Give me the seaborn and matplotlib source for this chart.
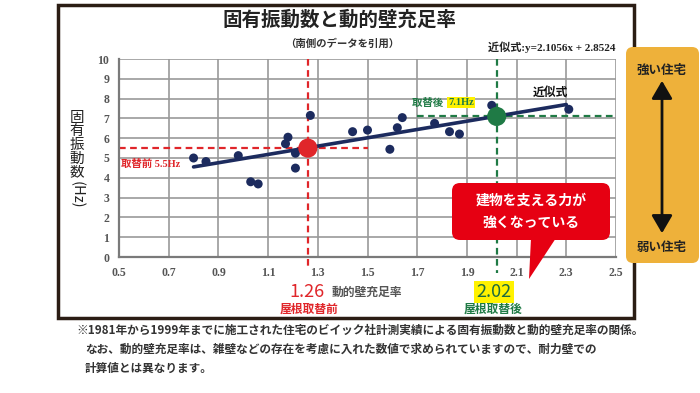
import numpy as np
import pandas as pd
import matplotlib
matplotlib.use("Agg")
import matplotlib.pyplot as plt
from matplotlib.patches import FancyBboxPatch, Rectangle, Polygon, FancyArrowPatch
import seaborn as sns

### data
wall_ratio = [0.80, 0.85, 0.98, 1.03, 1.06, 1.17, 1.18, 1.21, 1.21, 1.27,
              1.44, 1.50, 1.59, 1.62, 1.64, 1.77, 1.83, 1.87, 2.00, 2.31]
freq_hz = [5.00, 4.82, 5.12, 3.80, 3.69, 5.72, 6.05, 5.24, 4.49, 7.15,
           6.33, 6.41, 5.44, 6.53, 7.04, 6.75, 6.33, 6.21, 7.66, 7.46]
trend_x = [0.80, 2.30]          # end points of the fitted line
trend_y = [4.55, 7.70]
before_pt = (1.26, 5.5)         # 屋根取替前
after_pt = (2.02, 7.1)          # 屋根取替後
x_ticks = [0.5, 0.7, 0.9, 1.1, 1.3, 1.5, 1.7, 1.9, 2.1, 2.3, 2.5]
y_ticks = list(range(0, 11))

NAVY = "#1c2b5e"
RED = "#e0262a"
GREEN = "#1f7a45"
YELLOW = "#fff200"
JP = ["Noto Sans CJK JP", "DejaVu Sans"]
SERIF = ["Liberation Serif", "Noto Sans CJK JP"]

sns.set_theme(style="whitegrid")
plt.rcParams["font.family"] = JP

W, H = 700, 393
fig = plt.figure(figsize=(W / 100, H / 100), dpi=100)
fig.patch.set_facecolor("white")

def inch(x, y):
    # pixel (top-left origin) -> inches for fig.dpi_scale_trans
    return x / 100, (H - y) / 100

# outer frame
x0, y0 = inch(58, 318)
fig.patches.append(Rectangle((x0, y0), 5.76, 3.13, transform=fig.dpi_scale_trans,
                             fill=False, lw=2.5, ec="#2b1d14", zorder=0))

ax = fig.add_axes([119 / W, 1 - 257 / H, (616 - 119) / W, (257 - 59) / H])
ax.set_facecolor("white")

df = pd.DataFrame({"ratio": wall_ratio, "freq": freq_hz})
trend = pd.DataFrame({"ratio": trend_x, "freq": trend_y})

# dashed guide lines
ax.plot([0.5, 1.5], [before_pt[1]] * 2, ls=(0, (3, 2)), color=RED, lw=1.6, zorder=2)
ax.plot([before_pt[0]] * 2, [10, -0.65], ls=(0, (3, 2)), color=RED, lw=1.6, zorder=2, clip_on=False)
ax.plot([1.70, 2.5], [after_pt[1]] * 2, ls=(0, (3, 2)), color=GREEN, lw=1.6, zorder=2)
ax.plot([after_pt[0]] * 2, [10, -0.8], ls=(0, (3, 2)), color=GREEN, lw=1.6, zorder=2, clip_on=False)

sns.lineplot(data=trend, x="ratio", y="freq", color=NAVY, lw=2.6, ax=ax, zorder=3)
sns.scatterplot(data=df, x="ratio", y="freq", color=NAVY, s=42, edgecolor="none", ax=ax, zorder=4)
ax.scatter([before_pt[0]], [before_pt[1]], s=190, color=RED, zorder=5, edgecolor="none")
ax.scatter([after_pt[0]], [after_pt[1]], s=190, color=GREEN, zorder=5, edgecolor="none")

ax.set_xlim(0.5, 2.5)
ax.set_ylim(0, 10)
ax.set_xticks(x_ticks)
ax.set_yticks(y_ticks)
ax.set_xticklabels([f"{v:.1f}" for v in x_ticks])
ax.set_yticklabels([str(v) for v in y_ticks])
ax.grid(True, color="#9a9a9a", lw=1.2)
ax.tick_params(length=0, pad=7, colors="#555555", labelsize=8.5)
for lab in ax.get_xticklabels() + ax.get_yticklabels():
    lab.set_family(SERIF)
    lab.set_weight("bold")
for side in ["top", "right"]:
    ax.spines[side].set_visible(False)
for side in ["left", "bottom"]:
    ax.spines[side].set_color("#7a7a7a")
    ax.spines[side].set_linewidth(1.6)
ax.set_xlabel("")
ax.set_ylabel("")

# labels inside the plot
ax.text(0.51, 4.72, "取替前 5.5Hz", color=RED, fontsize=7.5, fontweight="bold",
        family=SERIF, va="center", ha="left")
ax.text(1.68, 7.78, "取替後 ", color=GREEN, fontsize=7.5, fontweight="bold",
        family=SERIF, va="center", ha="left")
ax.text(1.825, 7.78, "7.1Hz", color=GREEN, fontsize=7.5, fontweight="bold", family=SERIF,
        va="center", ha="left",
        bbox=dict(boxstyle="square,pad=0.1", fc=YELLOW, ec="none"))
ax.text(2.235, 8.3, "近似式", color="#111111", fontsize=8.5, fontweight="bold",
        va="center", ha="center")

# titles
fig.text(340 / W, 1 - 20 / H, "固有振動数と動的壁充足率", fontsize=14, fontweight="bold",
         color="#222222", ha="center", va="center")
fig.text(342 / W, 1 - 44 / H, "（南側のデータを引用）", fontsize=7.5, fontweight="bold",
         color="#333333", ha="center", va="center")
fig.text(616 / W, 1 - 47 / H, "近似式:y=2.1056x + 2.8524", fontsize=8, fontweight="bold",
         family=SERIF, color="#222222", ha="right", va="center")

# y label, characters stacked
for i, ch in enumerate("固有振動数"):
    fig.text(77 / W, 1 - (118 + i * 13.5) / H, ch, fontsize=10.5, color="#222222",
             ha="center", va="center")
fig.text(77 / W, 1 - 195 / H, "(Hz)", fontsize=10.5, color="#222222", rotation=-90,
         ha="center", va="center")

# x label area
fig.text(307 / W, 1 - 292 / H, "1.26", fontsize=13, color=RED, ha="center", va="center")
fig.text(332 / W, 1 - 292 / H, "動的壁充足率", fontsize=8.5, fontweight="bold",
         color="#555555", ha="left", va="center")
fig.text(494 / W, 1 - 292 / H, "2.02", fontsize=13, color="#1d6b3f", ha="center", va="center",
         bbox=dict(boxstyle="square,pad=0.12", fc=YELLOW, ec="none"))
fig.text(309 / W, 1 - 309 / H, "屋根取替前", fontsize=8.5, fontweight="bold", color=RED,
         ha="center", va="center")
fig.text(493 / W, 1 - 309 / H, "屋根取替後", fontsize=8.5, fontweight="bold", color=GREEN,
         ha="center", va="center")

# red call-out
bx, by = inch(452, 240)
fig.patches.append(FancyBboxPatch((bx, by), 1.58, 0.57, boxstyle="round,pad=0,rounding_size=0.08",
                                  transform=fig.dpi_scale_trans, fc="#e60012", ec="none", zorder=6))
fig.patches.append(Polygon([inch(531, 238), inch(556, 238), inch(529, 279)], closed=True,
                           transform=fig.dpi_scale_trans, fc="#e60012", ec="none", zorder=6))
fig.text(531 / W, 1 - 201 / H, "建物を支える力が", fontsize=10, fontweight="bold", color="white",
         ha="center", va="center", zorder=7)
fig.text(531 / W, 1 - 223 / H, "強くなっている", fontsize=10, fontweight="bold", color="white",
         ha="center", va="center", zorder=7)

# orange side panel
px0, py0 = inch(626, 263)
fig.patches.append(FancyBboxPatch((px0, py0), 0.73, 2.16, boxstyle="round,pad=0,rounding_size=0.07",
                                  transform=fig.dpi_scale_trans, fc="#eeb13a", ec="none", zorder=5))
fig.text(662 / W, 1 - 70 / H, "強い住宅", fontsize=9, fontweight="bold", color="#222222",
         ha="center", va="center", zorder=7)
fig.text(662 / W, 1 - 247 / H, "弱い住宅", fontsize=9, fontweight="bold", color="#222222",
         ha="center", va="center", zorder=7)
fig.patches.append(FancyArrowPatch(inch(662, 78), inch(662, 236), transform=fig.dpi_scale_trans,
                                   arrowstyle="<|-|>,head_length=0.6,head_width=0.35",
                                   color="#111111", lw=2, mutation_scale=18, zorder=8))

# footnote
notes = ["※1981年から1999年までに施工された住宅のビイック社計測実績による固有振動数と動的壁充足率の関係。",
         "なお、動的壁充足率は、雑壁などの存在を考慮に入れた数値で求められていますので、耐力壁での",
         "計算値とは異なります。"]
fig.text(76 / W, 1 - 330 / H, notes[0], fontsize=8.4, fontweight="bold", color="#333333",
         ha="left", va="center")
fig.text(85 / W, 1 - 349 / H, notes[1], fontsize=8.4, fontweight="bold", color="#333333",
         ha="left", va="center")
fig.text(85 / W, 1 - 368 / H, notes[2], fontsize=8.4, fontweight="bold", color="#333333",
         ha="left", va="center")

fig.savefig("out.png", dpi=100)
